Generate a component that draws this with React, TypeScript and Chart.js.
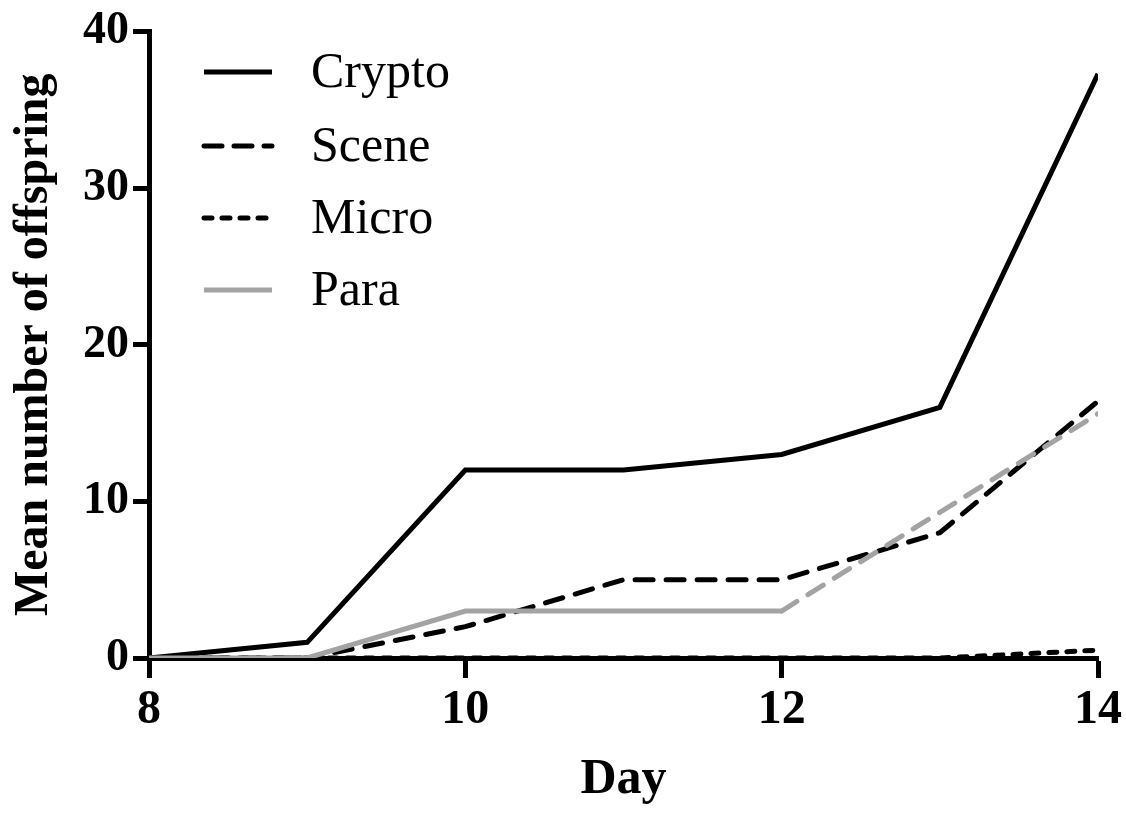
import React, { useEffect, useRef } from "react";
import { Chart, registerables } from "chart.js";

Chart.register(...registerables);

const days = [8, 9, 10, 11, 12, 13, 14];
const crypto = [0, 1, 12, 12, 13, 16, 37.3];
const scene = [0, 0, 2, 5, 5, 8, 16.4];
const micro = [0, 0, 0, 0, 0, 0, 0.5];
const para = [0, 0, 3, 3, 3, 9.3, 15.6];
const xTicks = [8, 10, 12, 14];
const yTicks = [0, 10, 20, 30, 40];
const seriesNames = ["Crypto", "Scene", "Micro", "Para"];

const GRAY = "#a3a3a3";
const SERIF = "'Liberation Serif', 'Times New Roman', serif";

const legendPlugin = {
  id: "insideLegend",
  afterDatasetsDraw(chart: any) {
    const ctx = chart.ctx;
    const x0 = 204;
    const x1 = 272;
    const tx = 311;
    const ys = [72, 146, 218, 290];
    chart.data.datasets.forEach((ds: any, i: number) => {
      const y = ys[i];
      ctx.save();
      ctx.strokeStyle = ds.borderColor;
      ctx.lineWidth = ds.borderWidth;
      ctx.lineCap = ds.borderCapStyle || "butt";
      ctx.setLineDash(ds.legendDash || []);
      ctx.beginPath();
      ctx.moveTo(x0, y);
      ctx.lineTo(x1, y);
      ctx.stroke();
      ctx.setLineDash([]);
      ctx.fillStyle = "#000";
      ctx.font = `normal 50px ${SERIF}`;
      ctx.textBaseline = "middle";
      ctx.textAlign = "left";
      ctx.fillText(ds.label, tx, y + 2);
      ctx.restore();
    });
  },
};

export default function App() {
  const ref = useRef<HTMLCanvasElement | null>(null);

  useEffect(() => {
    if (!ref.current) return;
    const mk = (arr: number[]) => days.map((d, i) => ({ x: d, y: arr[i] }));
    const chart = new Chart(ref.current, {
      type: "line",
      data: {
        datasets: [
          {
            label: seriesNames[0],
            data: mk(crypto),
            borderColor: "#000",
            borderWidth: 5,
            pointRadius: 0,
            borderJoinStyle: "miter",
            legendDash: [],
            order: 1,
          } as any,
          {
            label: seriesNames[1],
            data: mk(scene),
            borderColor: "#000",
            borderWidth: 5,
            pointRadius: 0,
            borderDash: [18, 13],
            borderCapStyle: "round",
            legendDash: [18, 12],
            order: 2,
          } as any,
          {
            label: seriesNames[2],
            data: mk(micro),
            borderColor: "#000",
            borderWidth: 5,
            pointRadius: 0,
            borderDash: [8, 10],
            borderCapStyle: "round",
            legendDash: [8, 10],
            order: 3,
          } as any,
          {
            label: seriesNames[3],
            data: mk(para),
            borderColor: GRAY,
            borderWidth: 5,
            pointRadius: 0,
            borderJoinStyle: "miter",
            legendDash: [],
            order: 0,
            segment: {
              borderDash: (c: any) => (c.p0DataIndex >= 4 ? [18, 13] : []),
              borderCapStyle: (c: any) => (c.p0DataIndex >= 4 ? "round" : "butt"),
            },
          } as any,
        ],
      },
      options: {
        animation: false,
        responsive: false,
        maintainAspectRatio: false,
        layout: { padding: { top: 30, right: 28, left: 0, bottom: 0 } },
        plugins: {
          legend: { display: false },
          tooltip: { enabled: false },
        },
        scales: {
          x: {
            type: "linear",
            min: 8,
            max: 14,
            afterFit: (s: any) => {
              s.height = 156;
            },
            afterBuildTicks: (s: any) => {
              s.ticks = xTicks.map((v) => ({ value: v }));
            },
            ticks: {
              color: "#000",
              font: { family: SERIF, size: 48, weight: "bold" },
              padding: 4,
              maxRotation: 0,
            },
            grid: {
              display: true,
              drawOnChartArea: false,
              drawTicks: true,
              tickLength: 20,
              tickWidth: 5,
              tickColor: "#000",
            },
            border: { display: true, color: "#000", width: 5 },
            title: {
              display: true,
              text: "Day",
              color: "#000",
              font: { family: SERIF, size: 50, weight: "bold" },
              padding: { top: 0, bottom: 4 },
            },
          },
          y: {
            type: "linear",
            min: 0,
            max: 40,
            afterFit: (s: any) => {
              s.width = 149;
            },
            afterBuildTicks: (s: any) => {
              s.ticks = yTicks.map((v) => ({ value: v }));
            },
            ticks: {
              color: "#000",
              font: { family: SERIF, size: 46, weight: "bold" },
              padding: 4,
            },
            grid: {
              display: true,
              drawOnChartArea: false,
              drawTicks: true,
              tickLength: 16,
              tickWidth: 5,
              tickColor: "#000",
            },
            border: { display: true, color: "#000", width: 5 },
            title: {
              display: true,
              text: "Mean number of offspring",
              color: "#000",
              font: { family: SERIF, size: 48, weight: "bold" },
              padding: { top: 6, bottom: 0 },
            },
          },
        },
      } as any,
      plugins: [legendPlugin],
    });
    return () => chart.destroy();
  }, []);

  return (
    <div style={{ position: "fixed", left: 0, top: 0, width: 1126, height: 814, background: "#fff" }}>
      <canvas ref={ref} width={1126} height={814} style={{ width: 1126, height: 814 }} />
    </div>
  );
}
